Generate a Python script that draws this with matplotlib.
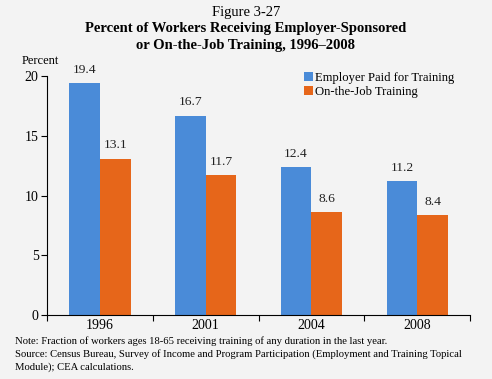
import numpy as np
import matplotlib
matplotlib.use('Agg')
import matplotlib.pyplot as plt

years = ['1996', '2001', '2004', '2008']
employer_paid = [19.4, 16.7, 12.4, 11.2]
on_the_job = [13.1, 11.7, 8.6, 8.4]
series_names = ['Employer Paid for Training', 'On-the-Job Training']

bg = '#f3f3f3'
blue = '#4a8bd8'
orange = '#e6661a'

plt.rcParams['font.family'] = ['Liberation Serif', 'DejaVu Serif']

fig = plt.figure(figsize=(4.92, 3.79), dpi=100, facecolor=bg)
ax = fig.add_axes([0.0955, 0.169, 0.86, 0.63], facecolor=bg)

x = np.arange(len(years))
w = 0.29
b1 = ax.bar(x - w/2, employer_paid, w, color=blue, label=series_names[0])
b2 = ax.bar(x + w/2, on_the_job, w, color=orange, label=series_names[1])

for bars, vals in ((b1, employer_paid), (b2, on_the_job)):
	for rect, v in zip(bars, vals):
		ax.text(rect.get_x() + rect.get_width()/2, v + 0.6, '%.1f' % v,
				ha='center', va='bottom', fontsize=9.7, color='#222222')

ax.set_xlim(-0.5, len(years) - 0.5)
ax.set_ylim(0, 20)
ax.set_yticks([0, 5, 10, 15, 20])
ax.set_xticks(np.arange(len(years) + 1) - 0.5)
ax.set_xticklabels([])
ax.set_xticks(x, minor=True)
ax.set_xticklabels(years, minor=True)
ax.tick_params(axis='x', which='minor', length=0, labelsize=10, pad=3)
ax.tick_params(axis='x', which='major', length=4, width=0.8)
ax.tick_params(axis='y', labelsize=10, length=4, width=0.8, pad=2)
for s in ['top', 'right']:
	ax.spines[s].set_visible(False)
for s in ['left', 'bottom']:
	ax.spines[s].set_linewidth(0.8)

ax.legend(loc='upper left', bbox_to_anchor=(0.595, 1.04), frameon=False,
		  fontsize=9.1, handlelength=0.7, handleheight=0.7, handletextpad=0.2,
		  labelspacing=0.2, borderaxespad=0)

fig.text(0.045, 0.838, 'Percent', fontsize=9, ha='left', va='center')

fig.text(0.5, 0.968, 'Figure 3-27', fontsize=10.5, ha='center', va='center')
fig.text(0.5, 0.924, 'Percent of Workers Receiving Employer-Sponsored', fontsize=10.5,
		 fontweight='bold', ha='center', va='center')
fig.text(0.5, 0.880, 'or On-the-Job Training, 1996\u20132008', fontsize=10.5,
		 fontweight='bold', ha='center', va='center')

notes = ['Note: Fraction of workers ages 18-65 receiving training of any duration in the last year.',
		 'Source: Census Bureau, Survey of Income and Program Participation (Employment and Training Topical',
		 'Module); CEA calculations.']
for i, line in enumerate(notes):
	fig.text(0.03, 0.100 - i*0.0343, line, fontsize=7.7, ha='left', va='center')

fig.savefig('out.png', dpi=100, facecolor=bg)
